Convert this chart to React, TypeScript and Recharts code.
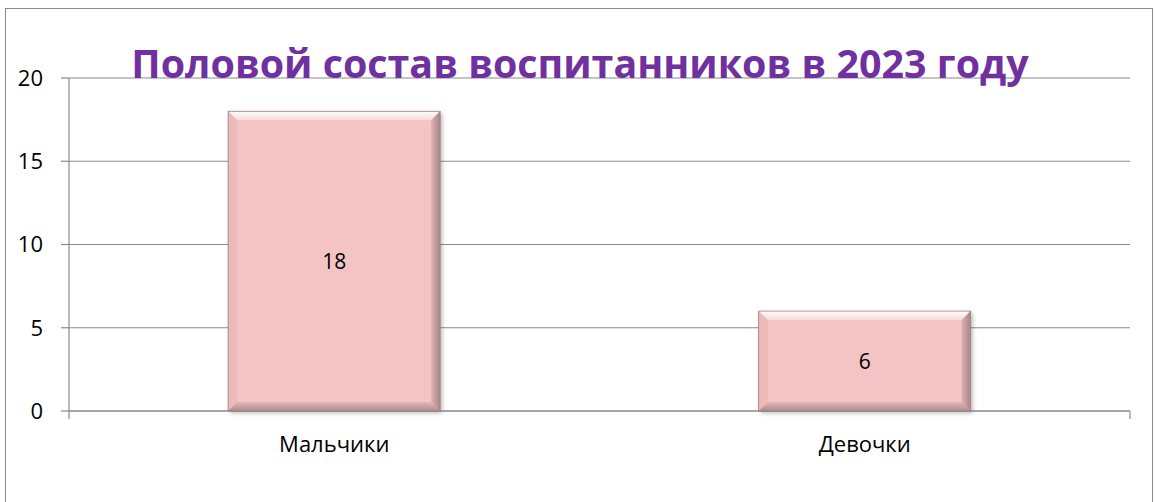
import React from "react";
import { BarChart, Bar, XAxis, YAxis, CartesianGrid, LabelList } from "recharts";

const categories = ["Мальчики", "Девочки"];
const counts = [18, 6];
const yTicks = [0, 5, 10, 15, 20];
const title = "Половой состав воспитанников в 2023 году";

const data = categories.map((name, i) => ({ name, value: counts[i] }));

const FONT = "'Open Sans', 'Noto Sans', sans-serif";

const BevelBar = (props: any) => {
  const { x, y, width: w, height: h } = props;
  if (!w || !h) return null;
  const b = Math.min(9, w / 4, h / 4);
  return (
    <g>
      <rect x={x + 2} y={y + 2} width={w} height={h} fill="rgba(0,0,0,0.28)" filter="url(#barShadow)" />
      <rect x={x} y={y} width={w} height={h} fill="#F4C4C4" />
      <polygon points={`${x},${y} ${x + w},${y} ${x + w - b},${y + b} ${x + b},${y + b}`} fill="url(#topBevel)" />
      <polygon points={`${x},${y} ${x + b},${y + b} ${x + b},${y + h - b} ${x},${y + h}`} fill="#EDB9B9" />
      <polygon points={`${x + w},${y} ${x + w},${y + h} ${x + w - b},${y + h - b} ${x + w - b},${y + b}`} fill="url(#rightBevel)" />
      <polygon points={`${x},${y + h} ${x + w},${y + h} ${x + w - b},${y + h - b} ${x + b},${y + h - b}`} fill="url(#bottomBevel)" />
      <rect x={x} y={y} width={w} height={h} fill="none" stroke="#A08080" strokeWidth={0.8} />
    </g>
  );
};

const EmptyTick = () => <g />;

export default function App() {
  return (
    <div style={{ position: "absolute", left: 0, top: 0, width: 1156, height: 502, background: "#fff", overflow: "hidden" }}>
      <div
        style={{
          position: "absolute",
          left: 5,
          top: 8,
          width: 1148,
          height: 520,
          border: "1.5px solid #8c8c8c",
          boxSizing: "border-box",
        }}
      />
      <div style={{ position: "absolute", left: 0, top: 0 }}>
        <BarChart
          width={1156}
          height={502}
          data={data}
          margin={{ top: 78, right: 26, left: 0, bottom: 60 }}
          barCategoryGap="30%"
        >
          <defs>
            <filter id="barShadow" x="-10%" y="-10%" width="130%" height="130%">
              <feGaussianBlur stdDeviation="2" />
            </filter>
            <linearGradient id="topBevel" x1="0" y1="0" x2="0" y2="1">
              <stop offset="0%" stopColor="#FFFFFF" />
              <stop offset="100%" stopColor="#F8D8D8" />
            </linearGradient>
            <linearGradient id="rightBevel" x1="1" y1="0" x2="0" y2="0">
              <stop offset="0%" stopColor="#A98585" />
              <stop offset="100%" stopColor="#E0B0B0" />
            </linearGradient>
            <linearGradient id="bottomBevel" x1="0" y1="1" x2="0" y2="0">
              <stop offset="0%" stopColor="#B08C8C" />
              <stop offset="100%" stopColor="#E6B4B4" />
            </linearGradient>
          </defs>
          <CartesianGrid xAxisId="zCat" vertical={false} stroke="#8a8a8a" strokeWidth={1.2} />
          <XAxis
            xAxisId="aGrid"
            type="number"
            domain={[0, 2]}
            ticks={[0, 1, 2]}
            tick={<EmptyTick />}
            height={1}
            tickSize={8}
            stroke="#8a8a8a"
            axisLine={{ stroke: "#8a8a8a", strokeWidth: 1.2 }}
            tickLine={{ stroke: "#8a8a8a", strokeWidth: 1.2 }}
          />
          <XAxis
            xAxisId="zCat"
            dataKey="name"
            axisLine={false}
            tickLine={false}
            tickSize={0}
            tickMargin={24}
            height={30}
            tick={{ fill: "#000", fontSize: 22, fontFamily: FONT }}
          />
          <YAxis
            domain={[0, 20]}
            ticks={yTicks}
            width={69}
            tickSize={8}
            tickMargin={18}
            axisLine={{ stroke: "#8a8a8a", strokeWidth: 1.2 }}
            tickLine={{ stroke: "#8a8a8a", strokeWidth: 1.2 }}
            tick={{ fill: "#000", fontSize: 22, fontFamily: FONT }}
          />
          <Bar dataKey="value" xAxisId="zCat" isAnimationActive={false} shape={<BevelBar />}>
            <LabelList dataKey="value" position="center" fill="#000" fontSize={21} fontFamily={FONT} />
          </Bar>
        </BarChart>
      </div>
      <div
        style={{
          position: "absolute",
          left: 0,
          width: 1160,
          top: 37,
          textAlign: "center",
          color: "#7030A0",
          fontFamily: FONT,
          fontWeight: 700,
          fontSize: 39.4,
          lineHeight: "52px",
          whiteSpace: "nowrap",
        }}
      >
        {title}
      </div>
    </div>
  );
}
